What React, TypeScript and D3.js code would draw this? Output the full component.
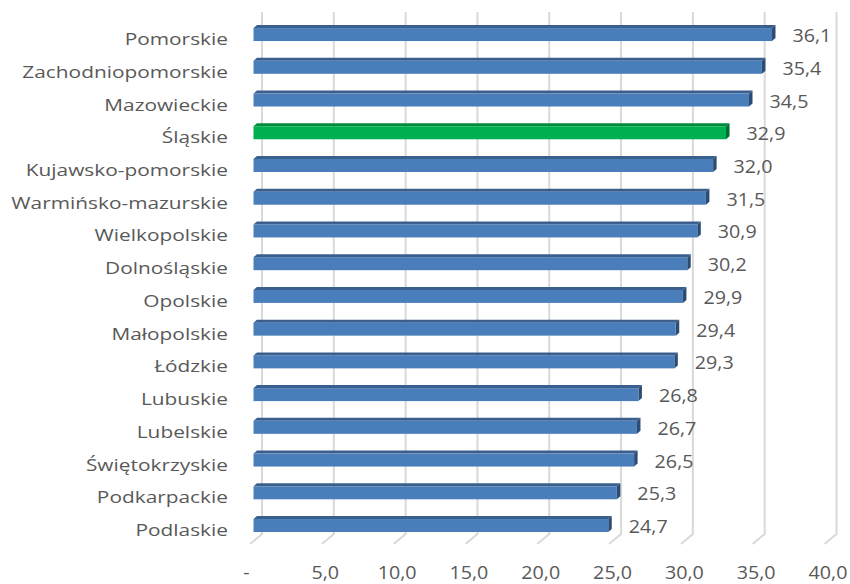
import React from "react";
import * as d3 from "d3";

// Regions, top to bottom
const regions: string[] = [
  "Pomorskie",
  "Zachodniopomorskie",
  "Mazowieckie",
  "Śląskie",
  "Kujawsko-pomorskie",
  "Warmińsko-mazurskie",
  "Wielkopolskie",
  "Dolnośląskie",
  "Opolskie",
  "Małopolskie",
  "Łódzkie",
  "Lubuskie",
  "Lubelskie",
  "Świętokrzyskie",
  "Podkarpackie",
  "Podlaskie",
];

const values: number[] = [
  36.1, 35.4, 34.5, 32.9, 32.0, 31.5, 30.9, 30.2, 29.9, 29.4, 29.3, 26.8, 26.7,
  26.5, 25.3, 24.7,
];

const highlighted: string[] = ["Śląskie"];

const ticks: number[] = [0, 5, 10, 15, 20, 25, 30, 35, 40];

const W = 850;
const H = 584;

// back wall of the 3D plot
const wallTop = 12;
const floorY = 534;
// offset of the bars' front face relative to the back wall
const faceDx = -8.5;
const faceDy = 6.2;
// depth of each bar
const depthX = 3.5;
const depthY = -3;
// floor run of the gridlines towards the viewer
const floorDx = -12;
const floorDy = 10;
const barH = 13;

const fmt = (v: number) => (v === 0 ? "-" : d3.format(".1f")(v).replace(".", ","));

const FONT = "'Open Sans', Lato, sans-serif";
const TEXT = "#595959";

export default function App() {
  const x = d3.scaleLinear().domain([0, 40]).range([262, 836.5]);
  const y = d3.scaleBand<string>().domain(regions).range([wallTop, 535.7]);

  const blue = { front: "#4A7EBB", top: "#3A5F8D", side: "#2D4C74" };
  const green = { front: "#00B050", top: "#008A3E", side: "#006E31" };

  return (
    <svg
      width={W}
      height={H}
      style={{ position: "absolute", left: 0, top: 0, background: "#fff" }}
    >
      {/* gridlines on the back wall and across the floor */}
      <g stroke="#D9D9D9" strokeWidth={2} fill="none">
        {ticks.map((t) => (
          <path
            key={t}
            d={`M${x(t)},${wallTop} L${x(t)},${floorY} L${x(t) + floorDx},${floorY + floorDy}`}
          />
        ))}
      </g>

      {/* bars */}
      {regions.map((r, i) => {
        const v = values[i];
        const c = highlighted.includes(r) ? green : blue;
        const cy = (y(r) as number) + y.bandwidth() / 2 + faceDy;
        const y0 = cy - barH / 2;
        const y1 = cy + barH / 2;
        const x0 = x(0) + faceDx;
        const x1 = x(v) + faceDx;
        return (
          <g key={r}>
            <polygon
              points={`${x0},${y0} ${x1},${y0} ${x1 + depthX},${y0 + depthY} ${x0 + depthX},${y0 + depthY}`}
              fill={c.top}
            />
            <polygon
              points={`${x1},${y0} ${x1 + depthX},${y0 + depthY} ${x1 + depthX},${y1 + depthY} ${x1},${y1}`}
              fill={c.side}
            />
            <rect x={x0} y={y0} width={x1 - x0} height={barH} fill={c.front} />
            <text
              transform={`translate(${x1 + 20.5},${cy + 7.5}) scale(1.06,1)`}
              fontFamily={FONT}
              fontSize={18.6}
              fill={TEXT}
            >
              {fmt(v)}
            </text>
            <text
              transform={`translate(228,${cy + 10.5}) scale(1.245,1)`}
              textAnchor="end"
              fontFamily={FONT}
              fontSize={16.75}
              fill={TEXT}
            >
              {r}
            </text>
          </g>
        );
      })}

      {/* value axis labels */}
      {ticks.map((t) => (
        <text
          key={t}
          transform={`translate(${x(t) + faceDx + (t === 0 ? -7 : 0)},579) scale(1.06,1)`}
          textAnchor="middle"
          fontFamily={FONT}
          fontSize={18.6}
          fill={TEXT}
        >
          {fmt(t)}
        </text>
      ))}
    </svg>
  );
}
